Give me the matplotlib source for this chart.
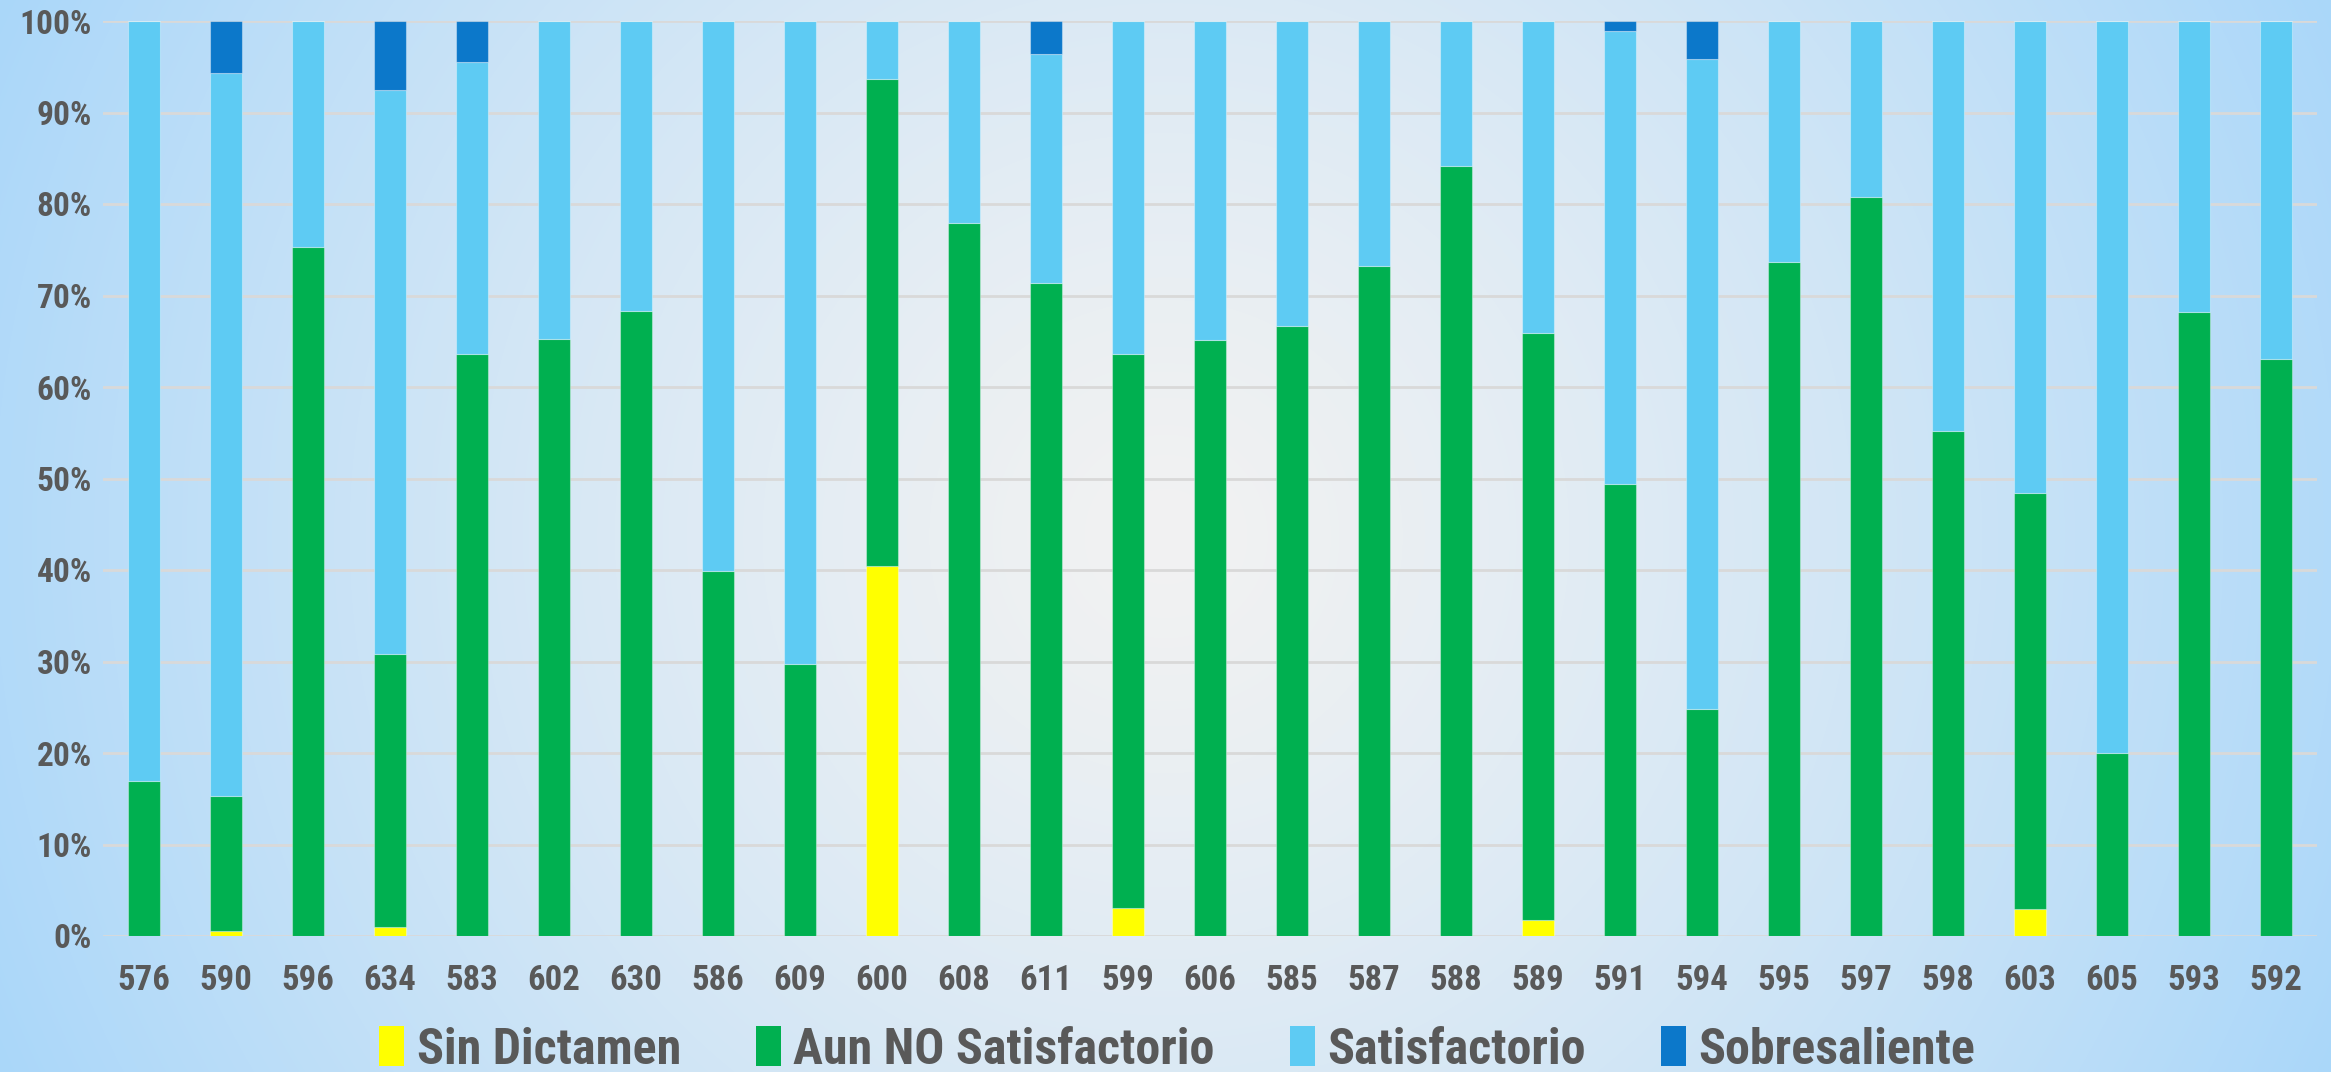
import numpy as np
import matplotlib
matplotlib.use("Agg")
import matplotlib.pyplot as plt
from matplotlib.patches import Patch
from matplotlib import font_manager

categories = ["576", "590", "596", "634", "583", "602", "630", "586", "609", "600",
              "608", "611", "599", "606", "585", "587", "588", "589", "591", "594",
              "595", "597", "598", "603", "605", "593", "592"]
sin_dictamen = [0.0, 0.5, 0.0, 1.0, 0.0, 0.0, 0.0, 0.0, 0.0, 40.4,
                0.0, 0.0, 3.1, 0.0, 0.0, 0.0, 0.0, 1.8, 0.0, 0.0,
                0.0, 0.0, 0.0, 2.9, 0.0, 0.0, 0.0]
aun_no = [16.9, 14.8, 75.3, 29.8, 63.6, 65.3, 68.3, 39.9, 29.7, 53.3,
          77.9, 71.4, 60.5, 65.1, 66.7, 73.2, 84.1, 64.1, 49.4, 24.8,
          73.7, 80.8, 55.2, 45.5, 20.0, 68.2, 63.1]
sobresaliente = [0.0, 5.7, 0.0, 7.5, 4.5, 0.0, 0.0, 0.0, 0.0, 0.0,
                 0.0, 3.6, 0.0, 0.0, 0.0, 0.0, 0.0, 0.0, 1.1, 4.2,
                 0.0, 0.0, 0.0, 0.0, 0.0, 0.0, 0.0]
satisfactorio = [100 - a - b - c for a, b, c in zip(sin_dictamen, aun_no, sobresaliente)]

series_names = ["Sin Dictamen", "Aun NO Satisfactorio", "Satisfactorio", "Sobresaliente"]
colors = ["#FFFF00", "#00B050", "#5ECBF3", "#0C78CA"]

avail = {f.name for f in font_manager.fontManager.ttflist}
fam = None
for cand in ["Liberation Sans Narrow", "Roboto Condensed", "Open Sans Condensed", "Noto Sans Condensed", "Lato", "Open Sans"]:
    if cand in avail:
        fam = cand
        break
if fam is None:
    fam = "DejaVu Sans"
plt.rcParams['font.family'] = [fam, 'DejaVu Sans']

W, H = 2331, 1072
fig = plt.figure(figsize=(W / 100, H / 100), dpi=100)

# background radial gradient
bg = fig.add_axes([0, 0, 1, 1])
yy, xx = np.mgrid[0:H, 0:W]
d = np.sqrt((xx - W / 2) ** 2 + (yy - H / 2) ** 2) / np.sqrt((W / 2) ** 2 + (H / 2) ** 2)
t = np.clip(d, 0, 1) ** 1.3
c0 = np.array([0xF2, 0xF2, 0xF2]) / 255
c1 = np.array([0xAA, 0xD7, 0xFA]) / 255
img = c0[None, None, :] * (1 - t[..., None]) + c1[None, None, :] * t[..., None]
bg.imshow(img, aspect='auto', extent=[0, 1, 0, 1], origin='upper')
bg.axis('off')

ax = fig.add_axes([103 / W, 1 - 936 / H, (2317 - 103) / W, (936 - 21) / H])
ax.set_facecolor('none')
x = np.arange(len(categories))
bottom = np.zeros(len(categories))
data = [sin_dictamen, aun_no, satisfactorio, sobresaliente]
for vals, col, name in zip(data, colors, series_names):
    vals = np.array(vals)
    ax.bar(x, vals, width=0.4, bottom=bottom, color=col, edgecolor=(1, 1, 1, 0.35),
           linewidth=0.8, label=name, zorder=3)
    bottom += vals

ax.set_xlim(-0.5, len(categories) - 0.5)
ax.set_ylim(0, 100)
ax.set_yticks(np.arange(0, 101, 10))
ax.set_yticklabels([f"{v}%" for v in range(0, 101, 10)])
ax.set_xticks(x)
ax.set_xticklabels(categories)
ax.tick_params(axis='both', length=0, colors='#595959', labelsize=24)
ax.tick_params(axis='x', labelsize=25)
for lab in ax.get_xticklabels() + ax.get_yticklabels():
    lab.set_fontweight('bold')
ax.tick_params(axis='x', pad=20)
ax.tick_params(axis='y', pad=8)
ax.yaxis.grid(True, color='#D9D9D9', linewidth=2, zorder=0)
ax.set_axisbelow(True)
for s in ax.spines.values():
    s.set_visible(False)

handles = [Patch(facecolor=c, edgecolor='none', label=n) for c, n in zip(colors, series_names)]
leg = fig.legend(handles=handles, loc='center', bbox_to_anchor=(0.505, 1 - 1050 / H), ncol=4,
                 frameon=False, prop={'size': 36, 'weight': 'bold'}, handlelength=0.5,
                 handleheight=0.85, handletextpad=0.25, columnspacing=1.5)
for txt in leg.get_texts():
    txt.set_color('#595959')

fig.savefig("out.png", dpi=100)
